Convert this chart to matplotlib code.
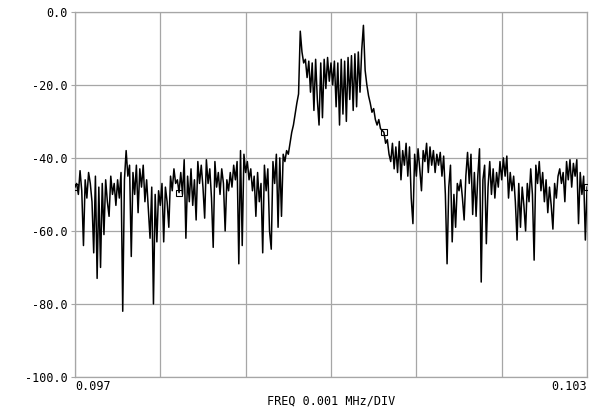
import matplotlib
matplotlib.use('Agg')
import matplotlib.pyplot as plt
import numpy as np

# spectrum analyser sweep, 0.097 .. 0.103 MHz, level in dB
f_start = 0.097
f_stop = 0.103

level_db = [
    -48, -47, -50, -43.5, -49, -64, -46, -51, -44, -47, -52, -66, -45, -73, -48,
    -70, -47, -61, -46, -52, -56, -45, -50, -47, -53, -46, -51, -44, -82, -46,
    -38, -45, -42, -67, -44, -50, -42, -55, -43, -48, -42, -52, -46, -54, -62,
    -48, -80, -50, -63, -49, -53, -47, -63, -48, -52, -59, -45, -49, -43, -47,
    -46, -49.5, -44, -50, -40.5, -62, -45, -52, -43, -53, -46, -57, -41, -47, -42,
    -48, -56.5, -40.5, -47, -43, -51, -64.5, -41, -48, -44, -50, -43, -47, -60, -46,
    -49, -44, -48, -42, -46, -41, -69, -38, -64, -39, -44, -41, -46, -43, -49,
    -45, -56, -44, -52, -47, -66, -42, -49, -43, -60, -65, -41, -47, -39, -59,
    -40, -56, -39, -41, -38, -39, -36, -33, -31, -28, -25, -22.5, -5.3, -11, -14,
    -13, -18, -13.5, -22, -14, -27, -13, -24, -31, -14, -29, -13, -21, -12.5, -19,
    -14, -20, -13.5, -26, -14, -31, -13, -28, -13.5, -30, -12.5, -24, -12, -27, -11.5,
    -26, -11, -22, -10.5, -3.7, -16, -20, -23, -25, -27.5, -26.5, -29.5, -31, -29.5, -32,
    -32.5, -33, -36, -35, -39, -41, -36, -43, -37, -44, -35.5, -46, -38, -42, -36,
    -45, -37, -51, -58, -39, -45, -37.5, -43, -49, -38, -41, -36, -44, -37, -42,
    -38, -44, -39, -42, -38.5, -45, -39.5, -50, -69, -48, -42, -63, -50, -59, -47,
    -49, -46, -51, -57, -45, -38.5, -47, -39, -55.5, -44, -56, -45, -37.5, -74, -46,
    -42, -63.5, -48, -41, -50, -43, -51, -44, -48, -41, -46, -40, -45, -39.5, -51,
    -44, -49, -45, -52, -62.5, -47, -59, -48, -53, -60, -47, -52, -43, -50, -68,
    -42, -47, -41, -49, -44, -52, -46, -55, -48, -53, -59.5, -47, -51, -45, -43,
    -47, -44, -52, -41, -46, -40.5, -48, -41.5, -45, -40.5, -58, -44, -50, -45, -62.5,
    -48,
]
marker_idx = [0, 61, 181, 300]

y_ticks = [0, -20, -40, -60, -80, -100]
y_labels = ['0.0', '-20.0', '-40.0', '-60.0', '-80.0', '-100.0']

freq = np.linspace(f_start, f_stop, len(level_db))

fig = plt.figure(figsize=(5.9, 4.08), dpi=100)
ax = fig.add_axes([0.127, 0.076, 0.868, 0.895])

grid_c = '#a6a6a6'
mono = 'DejaVu Sans Mono'

ax.plot(freq, level_db, color='black', lw=1.1, marker='s', markevery=marker_idx,
        ms=4, mfc='none', mec='black', mew=0.8, zorder=3)

ax.set_xlim(f_start, f_stop)
ax.set_ylim(-100, 0)
ax.set_xticks(np.linspace(f_start, f_stop, 7))
ax.set_xticklabels([])
ax.set_yticks(y_ticks)
ax.set_yticklabels(y_labels, family=mono, fontsize=8.5)
ax.tick_params(axis='y', length=3, width=0.8, color=grid_c, pad=2)
ax.tick_params(axis='x', length=0)
ax.grid(True, color=grid_c, lw=0.9)
for s in ax.spines.values():
    s.set_color(grid_c)
    s.set_linewidth(0.9)

ax.text(0.0, -0.008, '0.097', transform=ax.transAxes, ha='left', va='top',
        family=mono, fontsize=8.5)
ax.text(1.0, -0.008, '0.103', transform=ax.transAxes, ha='right', va='top',
        family=mono, fontsize=8.5)
ax.text(0.5, -0.048, 'FREQ 0.001 MHz/DIV', transform=ax.transAxes, ha='center',
        va='top', family=mono, fontsize=8.5)

fig.savefig('out.png', dpi=100)
